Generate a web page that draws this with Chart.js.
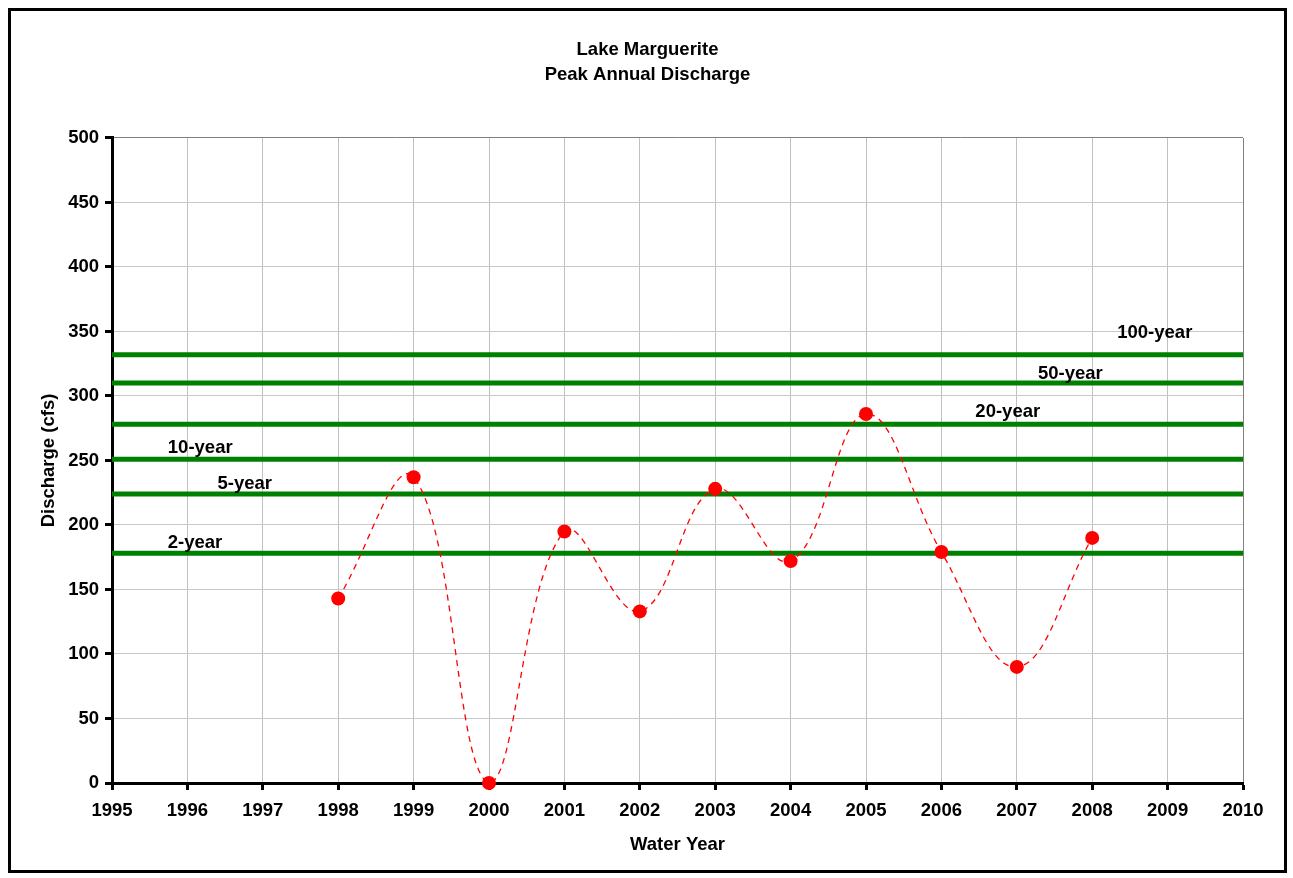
<!DOCTYPE html>
<html>
<head>
<meta charset="utf-8">
<title>Lake Marguerite - Peak Annual Discharge</title>
<script src="https://cdn.jsdelivr.net/npm/chart.js@4.4.1/dist/chart.umd.min.js"></script>
<style>
    body { margin: 0; background: #fff; }
    #frame {
        position: absolute;
        left: 8px;
        top: 8px;
        width: 1273px;
        height: 859px;
        border: 3px solid #000;
    }
</style>
</head>
<body>
<div id="frame"><canvas id="discharge-chart"></canvas></div>
<script>
// Dati
const waterYears = [1998, 1999, 2000, 2001, 2002, 2003, 2004, 2005, 2006, 2007, 2008];
const peakDischarge = [143, 237, 0, 195, 133, 228, 172, 286, 179, 90, 190];

// Portate di riferimento per tempo di ritorno (cfs)
const returnPeriodNames = ['100-year', '50-year', '20-year', '10-year', '5-year', '2-year'];
const returnPeriodFlows = [332, 310, 278, 251, 224, 178];
// Posizione delle etichette (anno, cfs)
const labelYears = [2008.83, 2007.71, 2006.88, 1996.17, 1996.76, 1996.10];
const labelFlows = [349, 317, 288, 260, 232, 186];

const xMin = 1995, xMax = 2010;
const yMin = 0, yMax = 500;

const FONT = 'Arial, "Liberation Sans", sans-serif';
const FONT_SIZE = 18.5;

// Linee orizzontali verdi: un dataset per ogni tempo di ritorno
const returnDatasets = returnPeriodFlows.map((flow, i) => ({
    label: returnPeriodNames[i],
    data: [{ x: xMin, y: flow }, { x: xMax, y: flow }],
    borderColor: '#008000',
    borderWidth: 5,
    pointRadius: 0,
    pointHoverRadius: 0,
    fill: false,
    tension: 0
}));

// Etichette dei tempi di ritorno
const returnLabelsPlugin = {
    id: 'returnLabels',
    afterDatasetsDraw(chart) {
        const ctx = chart.ctx;
        const xs = chart.scales.x;
        const ys = chart.scales.y;
        ctx.save();
        ctx.font = 'bold ' + FONT_SIZE + 'px ' + FONT;
        ctx.fillStyle = '#000';
        ctx.textAlign = 'center';
        ctx.textBaseline = 'middle';
        returnPeriodNames.forEach((name, i) => {
            ctx.fillText(name, xs.getPixelForValue(labelYears[i]), ys.getPixelForValue(labelFlows[i]));
        });
        ctx.restore();
    }
};

const ctx = document.getElementById('discharge-chart');

new Chart(ctx, {
    type: 'line',
    data: {
        datasets: [
            {
                label: 'Peak Annual Discharge',
                data: waterYears.map((yr, i) => ({ x: yr, y: peakDischarge[i] })),
                borderColor: '#ff0000',
                borderWidth: 1.3,
                borderDash: [6, 5],
                backgroundColor: '#ff0000',
                pointBackgroundColor: '#ff0000',
                pointBorderWidth: 0,
                pointRadius: 7,
                pointHoverRadius: 7,
                fill: false,
                tension: 0.4,
                clip: false
            },
            ...returnDatasets
        ]
    },
    plugins: [returnLabelsPlugin],
    options: {
        responsive: true,
        maintainAspectRatio: false,
        animation: false,
        events: [],
        layout: {
            padding: { left: 10, right: 10, top: 0, bottom: 8 }
        },
        plugins: {
            legend: { display: false },
            tooltip: { enabled: false },
            title: {
                display: true,
                text: ['Lake Marguerite', 'Peak Annual Discharge'],
                color: '#000',
                font: { family: FONT, size: FONT_SIZE, weight: 'bold', lineHeight: 1.35 },
                padding: { top: 26, bottom: 51 }
            }
        },
        scales: {
            x: {
                type: 'linear',
                min: xMin,
                max: xMax,
                afterFit: function(scale) { scale.height = 79; },
                ticks: {
                    stepSize: 1,
                    color: '#000',
                    padding: 10,
                    maxRotation: 0,
                    autoSkip: false,
                    font: { family: FONT, size: FONT_SIZE, weight: 'bold' },
                    callback: function(value) { return String(value); }
                },
                grid: {
                    color: function(c) { return c.tick && c.tick.value === xMax ? '#808080' : '#c0c0c0'; },
                    lineWidth: 1,
                    drawTicks: true,
                    tickLength: 7,
                    tickColor: '#000',
                    tickWidth: 3
                },
                border: { display: true, color: '#000', width: 3 },
                title: {
                    display: true,
                    text: 'Water Year',
                    color: '#000',
                    font: { family: FONT, size: FONT_SIZE, weight: 'bold' },
                    padding: { top: 0, bottom: 6 }
                }
            },
            y: {
                min: yMin,
                max: yMax,
                afterFit: function(scale) { scale.width = 91; },
                ticks: {
                    stepSize: 10,
                    color: '#000',
                    padding: 6,
                    autoSkip: false,
                    font: { family: FONT, size: FONT_SIZE, weight: 'bold' },
                    callback: function(value) { return value % 50 === 0 ? String(value) : null; }
                },
                grid: {
                    color: function(c) { return c.tick && c.tick.value === yMax ? '#808080' : '#c8c8c8'; },
                    lineWidth: 1,
                    drawTicks: true,
                    tickLength: 7,
                    tickColor: function(c) { return c.tick && c.tick.value % 50 === 0 ? '#000' : 'rgba(0,0,0,0)'; },
                    tickWidth: 3
                },
                border: { display: true, color: '#000', width: 3 },
                title: {
                    display: true,
                    text: 'Discharge (cfs)',
                    color: '#000',
                    font: { family: FONT, size: FONT_SIZE, weight: 'bold' },
                    padding: { top: 17, bottom: 0 }
                }
            },
            // asse vuoto a destra: solo spazio, così il titolo resta centrato sul riquadro
            yRight: {
                position: 'right',
                min: yMin,
                max: yMax,
                afterFit: function(scale) { scale.width = 31; },
                ticks: { display: false },
                grid: { display: false, drawTicks: false },
                border: { display: false },
                title: { display: false }
            }
        }
    }
});
</script>
</body>
</html>
